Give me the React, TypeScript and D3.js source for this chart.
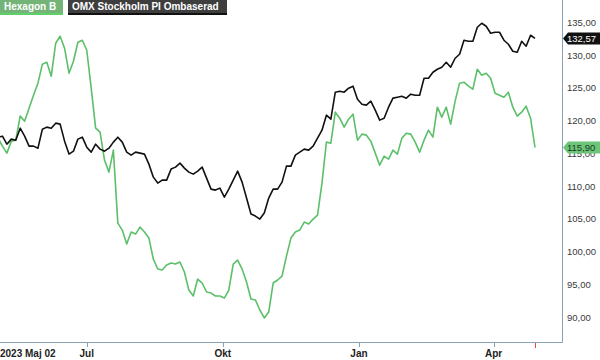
import React from "react";
import * as d3 from "d3";

// Series: Hexagon B vs OMX Stockholm PI (rebased), one value every 3rd day
const START = new Date(2023, 4, 2);
const END = new Date(2024, 3, 29);
const STEP_DAYS = 3;

const seriesNames = ["Hexagon B", "OMX Stockholm PI Ombaserad"];

const hexagonValues = [
  117.33, 116.11, 115.04, 116.87, 117.02, 120.69, 119.92, 121.91, 123.89, 125.73,
  128.63, 128.93, 126.79, 131.83, 132.9, 131.07, 127.25, 129.08, 131.98, 132.29,
  130.76, 124.96, 118.85, 118.24, 113.97, 112.14, 115.5, 104.35, 103.28, 101.15,
  102.98, 102.67, 103.74, 102.98, 102.06, 98.85, 97.33, 97.18, 97.94, 98.24,
  98.09, 98.4, 96.87, 94.12, 93.21, 95.8, 95.19, 93.82, 93.66, 93.21,
  93.21, 92.9, 94.12, 98.09, 98.7, 97.33, 95.34, 92.75, 92.6, 91.07,
  89.85, 90.76, 95.19, 95.65, 96.26, 99.31, 102.06, 102.98, 103.28, 104.5,
  104.2, 104.96, 105.57, 110.46, 116.72, 116.56, 121.3, 120.38, 119.01, 120.23,
  120.99, 117.02, 117.94, 117.79, 116.87, 115.04, 113.21, 114.58, 114.12, 115.5,
  114.89, 117.33, 118.09, 117.94, 116.72, 115.19, 117.02, 118.55, 117.48, 122.06,
  120.53, 122.06, 119.47, 122.98, 125.73, 125.88, 125.27, 124.81, 127.86, 126.95,
  127.25, 126.49, 124.2, 123.89, 123.59, 124.35, 122.06, 120.69, 121.3, 122.21,
  120.38, 115.9,
];

const omxValues = [
  117.48, 117.63, 116.41, 117.18, 117.02, 118.85, 117.63, 116.11, 116.11, 115.8,
  118.7, 119.01, 118.85, 119.62, 119.47, 116.87, 114.89, 115.34, 117.18, 117.48,
  115.95, 115.19, 116.41, 115.65, 115.34, 115.8, 116.72, 117.48, 116.72, 115.19,
  114.73, 115.19, 115.04, 114.89, 113.36, 111.37, 110.46, 110.92, 110.92, 112.6,
  112.9, 113.51, 112.75, 112.14, 111.83, 112.29, 112.9, 111.22, 109.54, 109.39,
  109.69, 108.32, 109.54, 110.92, 112.29, 110.61, 108.17, 105.73, 105.42, 104.96,
  105.88, 108.17, 109.54, 109.54, 110.61, 113.05, 113.05, 114.73, 115.19, 115.65,
  115.5, 116.11, 117.33, 118.55, 120.84, 120.23, 124.35, 124.5, 124.35, 124.96,
  125.27, 123.28, 122.52, 122.37, 122.98, 121.6, 120.08, 120.38, 122.06, 123.44,
  123.59, 123.74, 123.44, 124.05, 123.89, 123.89, 126.49, 126.49, 127.4, 127.86,
  128.17, 128.93, 128.17, 129.54, 130.15, 132.29, 132.14, 132.14, 134.27, 134.89,
  134.43, 133.36, 133.51, 133.51, 132.29, 131.68, 130.61, 130.46, 132.14, 131.37,
  133.05, 132.57,
];

const yTicks = [90, 95, 100, 105, 110, 115, 120, 125, 130, 135];
const xTickDates = [new Date(2023, 6, 1), new Date(2023, 9, 1), new Date(2024, 0, 1), new Date(2024, 3, 1)];
const xTickLabels = ["Jul", "Okt", "Jan", "Apr"];
const startLabel = "2023 Maj 02";

const FONT = "'Liberation Sans', Arial, sans-serif";
const GREEN = "#5cbf69";
const AXIS = "#87a2b6";

const App = () => {
  const svgRef = React.useRef<SVGSVGElement | null>(null);

  React.useEffect(() => {
    drawChart();
  }, []);

  const drawChart = () => {
    if (!svgRef.current) return;
    const width = 600;
    const plotRight = 562;
    const plotBottom = 342;

    const sveLocale = d3.formatLocale({ decimal: ",", thousands: " ", grouping: [3], currency: ["", " kr"] });
    const format = sveLocale.format(".2f");

    const dates = hexagonValues.map((_, i) => d3.timeDay.offset(START, i * STEP_DAYS));

    const x = d3.scaleTime().domain([START, END]).range([-2, 535]);
    const y = d3.scaleLinear().domain([90, 135]).range([317, 22.5]);

    const svg = d3.select(svgRef.current);
    svg.selectAll("*").remove();

    svg.append("rect").attr("width", width).attr("height", 360).attr("fill", "#fff");

    svg.append("clipPath").attr("id", "plot-clip")
      .append("rect").attr("x", 0).attr("y", 0).attr("width", plotRight).attr("height", plotBottom);

    // axes frame
    svg.append("line")
      .attr("x1", plotRight + 0.5).attr("x2", plotRight + 0.5)
      .attr("y1", 0).attr("y2", plotBottom + 0.5)
      .attr("stroke", AXIS);
    svg.append("line")
      .attr("x1", 0).attr("x2", plotRight + 0.5)
      .attr("y1", plotBottom + 0.5).attr("y2", plotBottom + 0.5)
      .attr("stroke", AXIS);

    // x ticks
    svg.append("g")
      .selectAll("line")
      .data(xTickDates)
      .join("line")
      .attr("x1", d => Math.round(x(d)) + 0.5).attr("x2", d => Math.round(x(d)) + 0.5)
      .attr("y1", plotBottom).attr("y2", plotBottom + 5)
      .attr("stroke", AXIS);

    svg.append("line")
      .attr("x1", Math.round(x(END)) + 0.5).attr("x2", Math.round(x(END)) + 0.5)
      .attr("y1", plotBottom + 1).attr("y2", plotBottom + 6)
      .attr("stroke", "#e8474a");

    svg.append("g")
      .style("font", `bold 10px ${FONT}`)
      .attr("fill", "#222")
      .attr("text-anchor", "middle")
      .selectAll("text")
      .data(xTickDates)
      .join("text")
      .attr("x", d => x(d))
      .attr("y", 357)
      .text((_, i) => xTickLabels[i]);

    svg.append("text")
      .attr("x", 0).attr("y", 357)
      .style("font", `bold 10px ${FONT}`)
      .attr("fill", "#222")
      .text(startLabel);

    // y tick labels (right side)
    svg.append("g")
      .style("font", `9.5px ${FONT}`)
      .attr("fill", "#3a3a3a")
      .selectAll("text")
      .data(yTicks)
      .join("text")
      .attr("x", 567)
      .attr("y", d => y(d) + 3.5)
      .text(d => format(d));

    // lines
    const line = d3.line<number>()
      .x((_, i) => x(dates[i]))
      .y(d => y(d));

    const g = svg.append("g").attr("clip-path", "url(#plot-clip)");
    g.append("path")
      .datum(hexagonValues)
      .attr("fill", "none")
      .attr("stroke", GREEN)
      .attr("stroke-width", 1.6)
      .attr("stroke-linejoin", "round")
      .attr("d", line);
    g.append("path")
      .datum(omxValues)
      .attr("fill", "none")
      .attr("stroke", "#111")
      .attr("stroke-width", 1.6)
      .attr("stroke-linejoin", "round")
      .attr("d", line);

    // last value tags
    const tags = [
      { value: omxValues[omxValues.length - 1], fill: "#111", text: "#fff" },
      { value: hexagonValues[hexagonValues.length - 1], fill: "#6cc679", text: "#1c3a1f" },
    ];
    const tag = svg.append("g")
      .selectAll("g")
      .data(tags)
      .join("g")
      .attr("transform", d => `translate(0, ${y(d.value)})`);
    tag.append("path")
      .attr("d", `M${plotRight + 1},0 L${plotRight + 6},-6 L${width},-6 L${width},6 L${plotRight + 6},6 Z`)
      .attr("fill", d => d.fill);
    tag.append("text")
      .attr("x", 567)
      .attr("y", 3.5)
      .style("font", `9.5px ${FONT}`)
      .attr("fill", d => d.text)
      .text(d => format(d.value));

    // legend
    const legend = [
      { name: seriesNames[0], x: 0, w: 63, fill: "#75b479", under: "#5fcf6c" },
      { name: seriesNames[1], x: 68, w: 159, fill: "#3e3e3e", under: "#111" },
    ];
    const lg = svg.append("g")
      .selectAll("g")
      .data(legend)
      .join("g")
      .attr("transform", d => `translate(${d.x}, 0)`);
    lg.append("rect").attr("width", d => d.w).attr("height", 13).attr("fill", d => d.fill);
    lg.append("rect").attr("y", 13).attr("width", d => d.w).attr("height", 2).attr("fill", d => d.under);
    lg.append("text")
      .attr("x", 4)
      .attr("y", 10)
      .style("font", `bold 10px ${FONT}`)
      .attr("fill", "#fff")
      .text(d => d.name);
  };

  return (
    <svg
      ref={svgRef}
      width={600}
      height={360}
      style={{ position: "absolute", left: 0, top: 0, display: "block" }}
    />
  );
};

export default App;
